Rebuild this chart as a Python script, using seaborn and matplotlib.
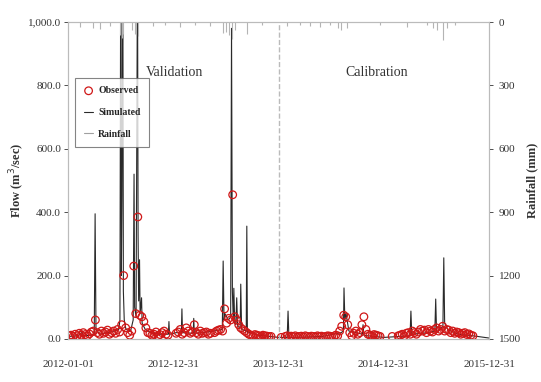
import numpy as np
import pandas as pd
import seaborn as sns
import matplotlib.pyplot as plt
from matplotlib.ticker import FuncFormatter

# simulated flow (m3/sec), sparse points
sim_dates = ['2012-01-01', '2012-02-05', '2012-02-20', '2012-02-22', '2012-03-20', '2012-04-01',
             '2012-04-04', '2012-04-07', '2012-04-20', '2012-05-15', '2012-06-10', '2012-06-25',
             '2012-06-29', '2012-07-02', '2012-07-04', '2012-07-06', '2012-07-09', '2012-07-11',
             '2012-07-14', '2012-07-20', '2012-08-05', '2012-08-14', '2012-08-17', '2012-08-19',
             '2012-08-24', '2012-08-29', '2012-08-31', '2012-09-02', '2012-09-05', '2012-09-07',
             '2012-09-12', '2012-09-14', '2012-09-25', '2012-10-15', '2012-11-10', '2012-12-14',
             '2012-12-16', '2012-12-18', '2013-01-10', '2013-01-28', '2013-01-30', '2013-02-01',
             '2013-03-10', '2013-03-12', '2013-03-14', '2013-04-10', '2013-05-20', '2013-06-19',
             '2013-06-22', '2013-06-25', '2013-06-28', '2013-07-10', '2013-07-18', '2013-07-21',
             '2013-07-24', '2013-07-27', '2013-07-29', '2013-08-01', '2013-08-05', '2013-08-08',
             '2013-08-11', '2013-08-20', '2013-08-22', '2013-08-25', '2013-09-10', '2013-09-12',
             '2013-09-14', '2013-09-25', '2013-10-20', '2013-12-01', '2013-12-31',
             '2014-01-30', '2014-02-02', '2014-02-05', '2014-04-01', '2014-06-01', '2014-08-05',
             '2014-08-13', '2014-08-15', '2014-08-18', '2014-08-22', '2014-09-01', '2014-10-18',
             '2014-10-20', '2014-10-23', '2014-11-05', '2015-01-01', '2015-04-01', '2015-04-04',
             '2015-04-07', '2015-06-01', '2015-06-26', '2015-06-29', '2015-07-02', '2015-07-24',
             '2015-07-27', '2015-07-30', '2015-08-10', '2015-09-15', '2015-11-05', '2015-12-31']
sim_flow = [8, 10, 22, 10, 12, 15,
            395, 30, 15, 20, 25, 30,
            60, 1300, 200, 450, 1250, 150,
            60, 30, 25, 60, 520, 100,
            70, 1200, 330, 120, 250, 80,
            130, 50, 30, 20, 15, 15,
            55, 15, 20, 20, 95, 20,
            18, 65, 18, 20, 25, 30,
            246, 60, 80, 60, 70, 980,
            150, 60, 160, 50, 45, 130,
            40, 35, 173, 30, 25, 356,
            20, 20, 12, 8, 5,
            5, 88, 5, 6, 8, 20,
            25, 161, 60, 80, 25, 15,
            45, 12, 10, 5, 10, 88,
            15, 20, 25, 126, 20, 40,
            256, 50, 30, 15, 10, 3]

# observed flow, weekly from 2012-01-05 (nan = no data)
obs_start = '2012-01-05'
nan = np.nan
obs_flow = [10, 12, 8, 15, 10, 18, 12, 20, 14, 10, 16, 22, 25, 60, 20, 15, 25, 18, 22, 28,
            15, 20, 25, 18, 30, 22, 45, 200, 35, 20, 12, 25, 230, 80, 385, 75, 70, 55, 35, 20,
            18, 12, 15, 22, 10, 14, 20, 25, 15, 12, nan, nan, nan, 18, 22, 30, 15, 20, 35, 25,
            18, 22, 45, 20, 15, 25, 18, 20, 22, 15, 18, nan, 20, 25, 28, 30, 25, 95, 50, 65,
            60, 455, 70, 60, 45, 35, 30, 25, 20, 15, 12, 10, 14, 12, 10, 8, 12, 10, 9, 8,
            8, nan, nan, nan, nan, 5, nan, 8, 10, 7, 9, 8, 10, 6, 8, 9, 7, 10, 8, 6,
            9, 8, 7, 10, 8, 9, 6, 8, 10, 9, 8, 7, 12, 10, 25, 40, 75, 70, 45, 20,
            10, 18, 25, 15, 20, 45, 70, 30, 15, 12, 10, 14, 12, 10, 8, nan, nan, nan, nan, nan,
            8, nan, nan, 10, 12, 15, 10, 18, 20, 15, 25, 20, 15, 22, 30, 25, 28, 20, 30, 25,
            22, 30, 35, 25, 30, 40, 25, 30, 28, 20, 25, 18, 22, 20, 15, 18, 20, 14, 16, 12,
            10]

# rainfall (mm)
rain_dates = ['2012-02-12', '2012-03-28', '2012-04-21', '2012-05-26', '2012-06-29', '2012-07-06',
              '2012-07-10', '2012-08-10', '2012-08-20', '2012-08-31', '2012-10-22', '2012-12-02',
              '2013-01-23', '2013-03-16', '2013-05-07', '2013-06-22', '2013-07-02', '2013-07-12',
              '2013-07-23', '2013-08-02', '2013-09-13', '2013-11-04', '2014-01-29', '2014-03-16',
              '2014-04-19', '2014-05-24', '2014-06-28', '2014-07-25', '2014-08-05', '2014-08-26',
              '2014-12-18', '2015-03-22', '2015-05-30', '2015-06-20', '2015-07-04', '2015-07-24',
              '2015-08-07', '2015-09-04']
rain_mm = [25, 30, 35, 20, 60, 75,
           55, 40, 55, 65, 20, 15,
           25, 15, 20, 50, 45, 60,
           80, 40, 55, 15, 20, 15,
           20, 25, 15, 30, 40, 30,
           15, 25, 15, 30, 40, 85,
           30, 15]

xtick_dates = ['2012-01-01', '2012-12-31', '2013-12-31', '2014-12-31', '2015-12-31']

sim_df = pd.DataFrame({'date': pd.to_datetime(sim_dates), 'flow': sim_flow})
obs_df = pd.DataFrame({'date': pd.date_range(obs_start, periods=len(obs_flow), freq='7D'),
                       'flow': obs_flow}).dropna()
rain_df = pd.DataFrame({'date': pd.to_datetime(rain_dates), 'rain': rain_mm})

sns.set_style('white')
plt.rcParams['font.family'] = ['Liberation Serif', 'DejaVu Serif']

fig = plt.figure(figsize=(5.41, 3.82), dpi=100)
ax = fig.add_axes([0.1257, 0.1126, 0.7783, 0.8298])
ax2 = ax.twinx()

sns.lineplot(x='date', y='flow', data=sim_df, ax=ax, color='#2a2a2a', linewidth=0.8,
             label='Simulated', legend=False)
sns.scatterplot(x='date', y='flow', data=obs_df, ax=ax, marker='o', s=30, facecolor='none',
                edgecolor='#d01818', linewidth=0.9, label='Observed', legend=False, zorder=3)
# rainfall hangs from the top of the inverted right axis
ax2.vlines(rain_df['date'], 0, rain_df['rain'], color='#b4b4b4', linewidth=0.8, zorder=2)

ax.set_xlim(pd.Timestamp('2012-01-01'), pd.Timestamp('2015-12-31'))
ax.set_ylim(0, 1000)
ax.set_yticks(np.arange(0, 1001, 200))
ax.yaxis.set_major_formatter(FuncFormatter(lambda v, p: f'{v:,.1f}'))
ax.set_xticks(pd.to_datetime(xtick_dates))
ax.set_xticklabels(xtick_dates)
ax2.set_ylim(1500, 0)
ax2.set_yticks(np.arange(0, 1501, 300))

ax.axvline(pd.Timestamp('2013-12-31'), color='#bbbbbb', linestyle='--', linewidth=1)

ax.set_xlabel('')
ax.set_ylabel('Flow (m$^3$/sec)', fontsize=9, fontweight='bold', color='#333333', labelpad=1)
ax2.set_ylabel('Rainfall (mm)', fontsize=9, fontweight='bold', color='#333333', rotation=90,
               labelpad=4)

for a in (ax, ax2):
    a.tick_params(labelsize=8, colors='#333333', length=3, width=0.6)
    for s in a.spines.values():
        s.set_color('#bbbbbb')
        s.set_linewidth(0.8)
ax.tick_params(axis='x', pad=12)
ax.tick_params(axis='y', pad=2)
ax2.tick_params(axis='y', pad=4)

ax.text(0.254, 0.842, 'Validation', transform=ax.transAxes, ha='center', va='center',
        fontsize=10, color='#333333')
ax.text(0.734, 0.842, 'Calibration', transform=ax.transAxes, ha='center', va='center',
        fontsize=10, color='#333333')

h1, l1 = ax.get_legend_handles_labels()
handles = dict(zip(l1, h1))
rain_handle = plt.Line2D([], [], color='#a0a0a0', linewidth=0.8)
leg = ax.legend([handles['Observed'], handles['Simulated'], rain_handle],
                ['Observed', 'Simulated', 'Rainfall'], loc='upper left',
                bbox_to_anchor=(0.005, 0.84), frameon=True, fancybox=False,
                handlelength=1.0, handletextpad=0.5, borderpad=0.9, labelspacing=1.3,
                prop={'weight': 'bold', 'size': 7})
leg.get_frame().set_edgecolor('#666666')
leg.get_frame().set_linewidth(0.8)
leg.set_zorder(10)

fig.savefig('out.png', dpi=100)
